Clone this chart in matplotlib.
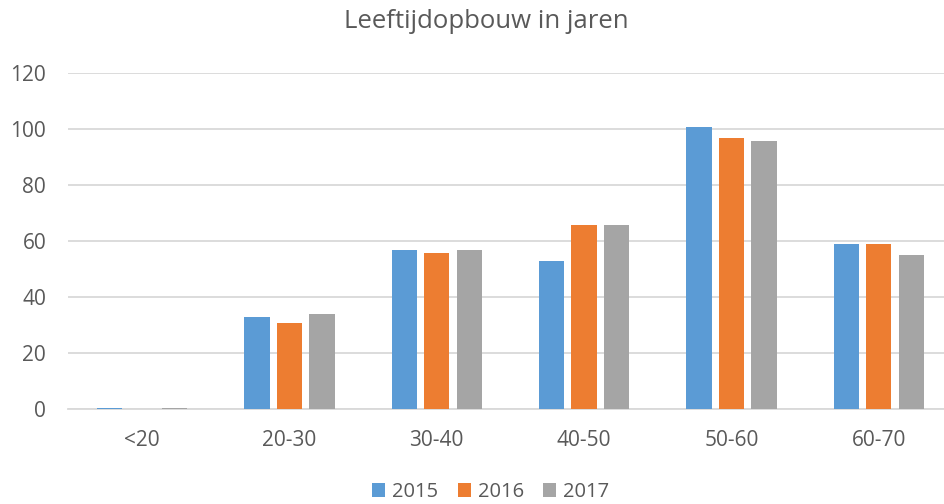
import matplotlib
matplotlib.use("Agg")
import matplotlib.pyplot as plt
import numpy as np

categories = ["<20", "20-30", "30-40", "40-50", "50-60", "60-70"]
years = ["2015", "2016", "2017"]
v2015 = [0.6, 33, 57, 53, 101, 59]
v2016 = [0, 31, 56, 66, 97, 59]
v2017 = [0.6, 34, 57, 66, 96, 55]
colors = ["#5B9BD5", "#ED7D31", "#A5A5A5"]

plt.rcParams['font.family'] = ['Open Sans', 'DejaVu Sans']
fig = plt.figure(figsize=(9.44, 5.04), dpi=100)
ax = fig.add_axes([68.4/944, 1 - 409.3/504, 884/944, 336/504])

x = np.arange(len(categories))
w = 0.172
step = 0.221
for i, (vals, c, lab) in enumerate(zip([v2015, v2016, v2017], colors, years)):
    ax.bar(x + (i - 1) * step, vals, width=w, color=c, label=lab, zorder=3)

ax.set_xlim(-0.5, len(categories) - 0.5)
ax.set_ylim(0, 120)
ax.set_yticks(range(0, 121, 20))
ax.set_xticks(x)
ax.set_xticklabels(categories)
ax.grid(axis='y', color='#D9D9D9', linewidth=1.3, zorder=0)
for s in ['top', 'right', 'left']:
    ax.spines[s].set_visible(False)
ax.spines['bottom'].set_color('#D9D9D9')
ax.spines['bottom'].set_linewidth(1.3)
ax.tick_params(axis='both', length=0, labelsize=15, colors='#595959')
ax.tick_params(axis='x', pad=15)
ax.tick_params(axis='y', pad=16)
fig.text(0.515, 0.957, "Leeftijdopbouw in jaren", ha='center', va='center',
         fontsize=18.5, color='#595959')
leg = fig.legend(loc='center', bbox_to_anchor=(0.52, 0.024), ncol=3, frameon=False,
                 fontsize=14.5, handlelength=0.65, handleheight=0.65, handletextpad=0.35,
                 columnspacing=0.95)
for t in leg.get_texts():
    t.set_color('#595959')
fig.savefig("out.png", dpi=100)
